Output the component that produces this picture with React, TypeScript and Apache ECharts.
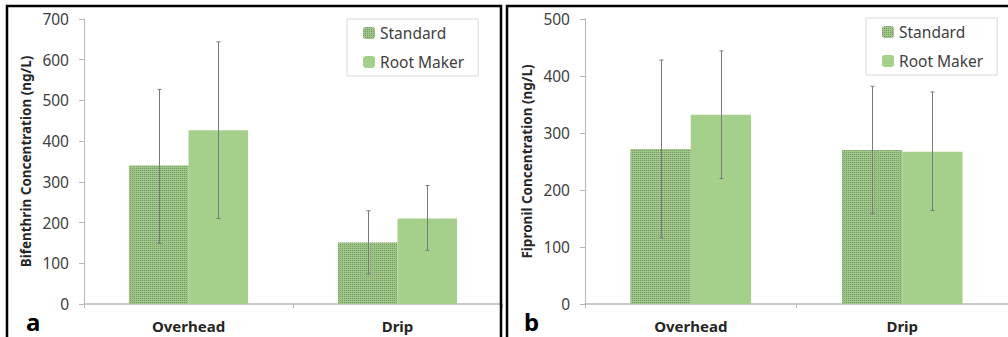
import React, { useEffect, useRef } from "react";
import * as echarts from "echarts";

const categories = ["Overhead", "Drip"];
const seriesNames = ["Standard", "Root Maker"];

// Panel a: Bifenthrin (ng/L)
const bifStandard = [340, 151];
const bifRootMaker = [427, 210];
const bifStandardLow = [149, 74];
const bifStandardHigh = [527, 229];
const bifRootMakerLow = [210, 132];
const bifRootMakerHigh = [644, 291];

// Panel b: Fipronil (ng/L)
const fipStandard = [272, 270];
const fipRootMaker = [332, 267];
const fipStandardLow = [116, 159];
const fipStandardHigh = [428, 382];
const fipRootMakerLow = [220, 164];
const fipRootMakerHigh = [444, 372];

const FONT = "Noto Sans";
const CAT_GAP = 0.43;

const stdStyle = {
  color: "#9fc689",
  decal: {
    symbol: "rect",
    symbolSize: 1,
    dashArrayX: [1, 1],
    dashArrayY: [1, 1],
    rotation: 0,
    color: "rgba(80,110,65,0.5)",
  },
};
const rmStyle = { color: "#a5d08b" };

function errSeries(gi: number, side: number, low: number[], high: number[]) {
  return {
    type: "custom",
    name: "err" + gi + side,
    xAxisIndex: gi,
    yAxisIndex: gi,
    silent: true,
    z: 10,
    data: categories.map((_, i) => [i, low[i], high[i]]),
    encode: { x: 0, y: [1, 2] },
    renderItem: (params: any, api: any) => {
      const i = api.value(0);
      const lo = api.coord([i, api.value(1)]);
      const hi = api.coord([i, api.value(2)]);
      const cw = api.size([1, 0])[0];
      const bw = (cw * (1 - CAT_GAP)) / 2;
      const x = Math.round(lo[0] + (side * bw) / 2) + 0.5;
      const st = { stroke: "#7a7a7a", lineWidth: 1 };
      return {
        type: "group",
        children: [
          { type: "line", shape: { x1: x, y1: lo[1], x2: x, y2: hi[1] }, style: st },
          { type: "line", shape: { x1: x - 2, y1: lo[1], x2: x + 2, y2: lo[1] }, style: st },
          { type: "line", shape: { x1: x - 2, y1: hi[1], x2: x + 2, y2: hi[1] }, style: st },
        ],
      };
    },
  };
}

function yAxis(gi: number, max: number, name: string) {
  return {
    type: "value",
    gridIndex: gi,
    min: 0,
    max,
    interval: 100,
    name,
    nameLocation: "middle",
    nameGap: 51,
    nameTextStyle: { fontFamily: FONT, fontSize: 13.5, fontWeight: "bold", color: "#262626" },
    axisLine: { show: true, lineStyle: { color: "#b8b8b8", width: 1 } },
    axisTick: { show: true, length: 5, lineStyle: { color: "#b8b8b8" } },
    axisLabel: { fontFamily: FONT, fontSize: 15.5, color: "#404040", margin: 15 },
    splitLine: { show: false },
  };
}

function xAxis(gi: number) {
  return {
    type: "category",
    gridIndex: gi,
    data: categories,
    axisLine: { show: true, lineStyle: { color: "#b8b8b8", width: 1.5 } },
    axisTick: { show: true, length: 4, lineStyle: { color: "#b8b8b8" } },
    axisLabel: { fontFamily: FONT, fontSize: 15, fontWeight: "bold", color: "#262626", margin: 14 },
  };
}

function legend(left: number, top: number) {
  return {
    data: seriesNames,
    left,
    top,
    orient: "vertical",
    itemWidth: 12,
    itemHeight: 12,
    itemGap: 13,
    padding: [6, 14, 6, 16],
    borderColor: "#d9d9d9",
    borderWidth: 1,
    backgroundColor: "#ffffff",
    textStyle: { fontFamily: FONT, fontSize: 15.5, color: "#404040" },
  };
}

export default function App() {
  const ref = useRef<HTMLDivElement>(null);
  useEffect(() => {
    if (!ref.current) return;
    const chart = echarts.init(ref.current, null, { renderer: "svg" });
    chart.setOption({
      animation: false,
      backgroundColor: "#ffffff",
      grid: [
        { left: 84, top: 19, width: 418, height: 285 },
        { left: 585, top: 19, width: 432, height: 285 },
      ],
      xAxis: [xAxis(0), xAxis(1)],
      yAxis: [
        yAxis(0, 700, "Bifenthrin Concentration (ng/L)"),
        yAxis(1, 500, "Fipronil Concentration (ng/L)"),
      ],
      legend: [legend(347, 19), legend(866, 18)],
      series: [
        { type: "bar", name: "Standard", xAxisIndex: 0, yAxisIndex: 0, data: bifStandard, itemStyle: stdStyle, barGap: "0%", barCategoryGap: "43%" },
        { type: "bar", name: "Root Maker", xAxisIndex: 0, yAxisIndex: 0, data: bifRootMaker, itemStyle: rmStyle, barGap: "0%", barCategoryGap: "43%" },
        { type: "bar", name: "Standard", xAxisIndex: 1, yAxisIndex: 1, data: fipStandard, itemStyle: stdStyle, barGap: "0%", barCategoryGap: "43%" },
        { type: "bar", name: "Root Maker", xAxisIndex: 1, yAxisIndex: 1, data: fipRootMaker, itemStyle: rmStyle, barGap: "0%", barCategoryGap: "43%" },
        errSeries(0, -1, bifStandardLow, bifStandardHigh),
        errSeries(0, 1, bifRootMakerLow, bifRootMakerHigh),
        errSeries(1, -1, fipStandardLow, fipStandardHigh),
        errSeries(1, 1, fipRootMakerLow, fipRootMakerHigh),
      ],
      graphic: [
        { type: "rect", shape: { x: 7, y: 6, width: 494, height: 345 }, style: { fill: "none", stroke: "#000", lineWidth: 2.5 }, z: 100 },
        { type: "rect", shape: { x: 507, y: 6, width: 520, height: 345 }, style: { fill: "none", stroke: "#000", lineWidth: 2.5 }, z: 100 },
        { type: "text", x: 26, y: 333, style: { text: "a", fontFamily: FONT, fontSize: 24, fontWeight: "bold", fill: "#000", textVerticalAlign: "bottom" }, z: 100 },
        { type: "text", x: 524, y: 333, style: { text: "b", fontFamily: FONT, fontSize: 24, fontWeight: "bold", fill: "#000", textVerticalAlign: "bottom" }, z: 100 },
      ],
    });
    return () => chart.dispose();
  }, []);
  return <div ref={ref} style={{ position: "absolute", left: 0, top: 0, width: 1008, height: 337 }} />;
}
